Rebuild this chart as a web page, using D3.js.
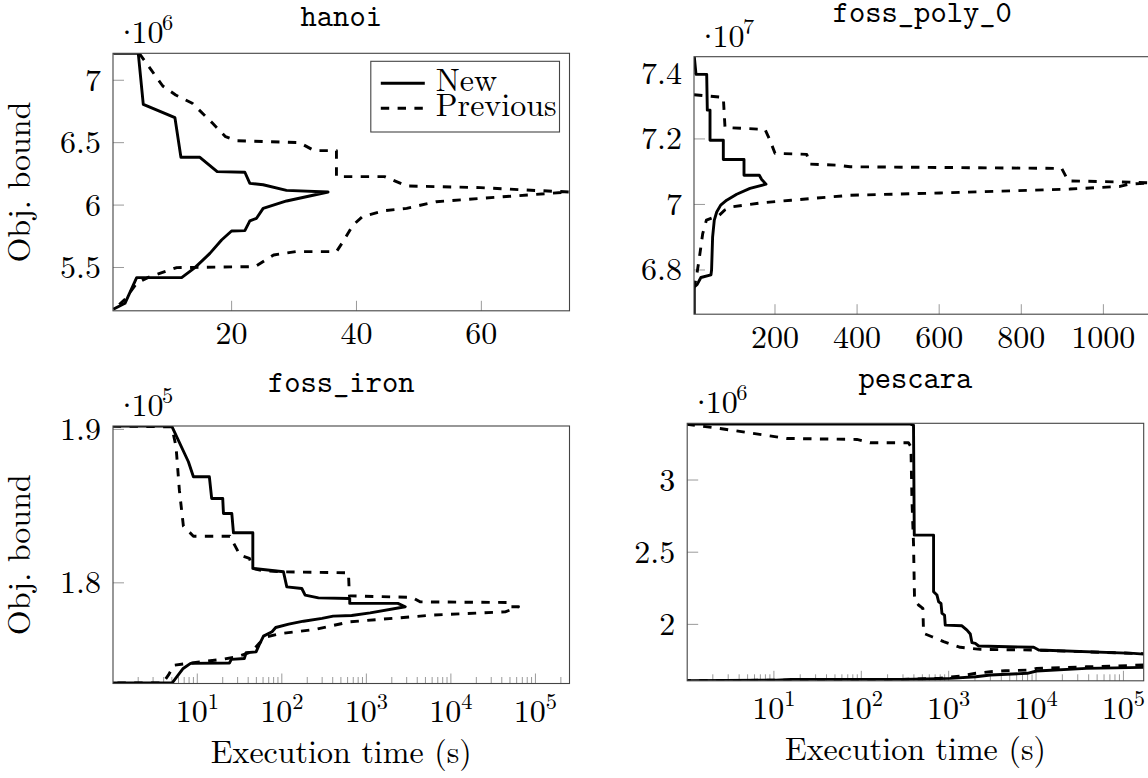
<!DOCTYPE html>
<html>
<head>
<meta charset="utf-8">
<script src="https://cdn.jsdelivr.net/npm/d3@7"></script>
<style>
  body { margin: 0; background: #fff; }
  svg { display: block; }
</style>
</head>
<body>
<svg id="chart" width="1148" height="778"></svg>
<script>
// ---- Bound trajectories: [time (s), objective bound (scaled by 10^exp)] ----
// Upper bounds run from the start to the meeting point, lower bounds run back.

// hanoi (x 10^6)
const hanoiNewUpper = [[1.05,7.216],[5.05,7.216],[5.85,6.807],[10.92,6.70],[11.88,6.383],[14.92,6.383],[17.69,6.268],[22.12,6.263],[22.92,6.174],[25.05,6.163],[28.79,6.118],[35.45,6.105]];
const hanoiNewLower = [[35.45,6.105],[28.8,6.033],[25.05,5.974],[23.99,5.894],[22.92,5.873],[22.12,5.795],[19.99,5.792],[18.39,5.72],[16.52,5.613],[14.12,5.499],[11.99,5.419],[4.79,5.419],[2.92,5.213],[1.05,5.165]];
const hanoiPrevUpper = [[5.2,7.216],[8.97,6.954],[11.04,6.882],[13.70,6.816],[16.96,6.655],[19.03,6.548],[20.8,6.516],[30.87,6.50],[33.24,6.436],[36.79,6.436],[36.79,6.228],[44.49,6.228],[48.04,6.153],[59.88,6.14],[66.97,6.121],[74.07,6.105]];
const hanoiPrevLower = [[74.07,6.105],[67.56,6.081],[59.88,6.054],[52.77,6.027],[48.04,5.974],[44.49,5.955],[40.94,5.907],[39.45,5.84],[37.67,5.694],[36.79,5.627],[30.28,5.627],[26.73,5.60],[23.77,5.507],[11.2,5.499],[6.65,5.421],[4.79,5.373],[2.92,5.245],[1.05,5.16]];

// foss_poly_0 (x 10^7)
const fossPolyNewUpper = [[3.4,7.451],[7.6,7.397],[33.6,7.397],[35.1,7.288],[41.7,7.288],[41.7,7.196],[74.1,7.196],[74.1,7.137],[124.5,7.137],[124.5,7.089],[161.8,7.089],[167.6,7.076],[178.1,7.062]];
const fossPolyNewLower = [[178.1,7.062],[139.1,7.049],[106.7,7.031],[82.3,7.013],[67.7,6.998],[58,6.977],[52.1,6.952],[48,6.90],[45.5,6.80],[44,6.785],[19.5,6.777],[10.5,6.756],[3.4,6.748],[3.4,6.665]];
const fossPolyPrevUpper = [[2.7,7.335],[74.1,7.327],[78.2,7.235],[175.6,7.229],[187.8,7.196],[200,7.156],[277.2,7.153],[285.3,7.123],[350.3,7.12],[383,7.115],[898.4,7.11],[914.5,7.072],[1063,7.068],[1113,7.066]];
const fossPolyPrevLower = [[1113,7.066],[1063,7.062],[1040.4,7.055],[918.6,7.047],[602,7.035],[383,7.028],[239.5,7.013],[167.6,7.005],[95.7,6.993],[77.7,6.983],[64.3,6.967],[32.9,6.952],[23.9,6.911],[14.9,6.83],[8.6,6.779],[2.7,6.745]];

// foss_iron (x 10^5)
const fossIronNewUpper = [[1,1.9021],[4.99,1.9021],[7.85,1.8789],[9.0,1.8691],[13.9,1.8691],[14.8,1.855],[20.0,1.855],[20.4,1.8452],[25.6,1.8452],[26.8,1.8326],[45.4,1.8326],[45.4,1.8094],[104.5,1.8072],[114.6,1.7974],[172.4,1.7963],[188.7,1.792],[271.2,1.7902],[636,1.7898],[636,1.7866],[2360,1.7866],[2886,1.7844]];
const fossIronNewLower = [[2886,1.7844],[1109,1.7804],[670,1.7787],[405,1.7783],[299,1.7768],[180.6,1.775],[120.7,1.7731],[84.7,1.7709],[76.6,1.7681],[60.7,1.7653],[53.8,1.7594],[49.6,1.755],[37.8,1.7544],[36,1.7507],[25.3,1.7501],[24.0,1.7478],[8.33,1.7475],[6.81,1.7442],[5.03,1.7347],[1,1.7347]];
const fossIronPrevUpper = [[1,1.9021],[4.99,1.9017],[5.61,1.8887],[6.14,1.8604],[6.85,1.837],[9.0,1.8304],[24.4,1.8304],[27.3,1.8252],[32.1,1.818],[41.4,1.8159],[45.4,1.8094],[60.6,1.8078],[104.5,1.8072],[614,1.8065],[631,1.7915],[3500,1.7905],[4318,1.7876],[46000,1.7872],[47100,1.7844],[63100,1.7844]];
const fossIronPrevLower = [[63100,1.7844],[43950,1.7811],[6220,1.779],[643,1.7746],[244,1.7696],[98.6,1.767],[65.9,1.7648],[53.8,1.7605],[44,1.755],[29.4,1.7518],[19.6,1.7501],[10.7,1.7485],[5.3,1.7463],[4.55,1.7398],[3.92,1.7348],[1,1.7347]];

// pescara (x 10^6)
const pescaraNewUpper = [[1,3.387],[363,3.387],[396,3.38],[404,2.618],[672,2.618],[672,2.226],[735,2.203],[767,2.157],[817,2.145],[838,2.076],[897,2.064],[914,1.995],[1419,1.99],[1621,1.96],[1768,1.933],[1848,1.873],[2018,1.868],[2203,1.85],[9400,1.841],[10720,1.822],[131000,1.799],[170600,1.794]];
const pescaraNewLower = [[170600,1.702],[37700,1.695],[10160,1.677],[7950,1.661],[3010,1.649],[2044,1.637],[1035,1.626],[292,1.619],[15.8,1.619],[10.7,1.614],[1,1.609]];
const pescaraPrevUpper = [[1,3.387],[2.42,3.357],[14.1,3.288],[89,3.281],[126,3.258],[347,3.258],[370,3.23],[380,2.861],[396,2.561],[407,2.168],[452,2.134],[507,2.111],[516,1.938],[644,1.914],[875,1.88],[1358,1.841],[2301,1.827],[9400,1.822],[131000,1.799],[170600,1.797]];
const pescaraPrevLower = [[170600,1.718],[37700,1.706],[10160,1.695],[8770,1.684],[4450,1.679],[3010,1.672],[2044,1.661],[1384,1.642],[772,1.626],[292,1.619],[1,1.609]];

// ---- Axis ticks ----
const hanoiXTicks = [20, 40, 60];
const hanoiYTicks = [5.5, 6, 6.5, 7];
const fossPolyXTicks = [200, 400, 600, 800, 1000];
const fossPolyYTicks = [6.8, 7, 7.2, 7.4];
const logDecades = [1, 2, 3, 4, 5];
const fossIronYTicks = [1.8, 1.9];
const pescaraYTicks = [2, 2.5, 3];

const seriesNames = ["New", "Previous"];

// ---- Styling ----
const serif = "'Latin Modern Roman', 'Liberation Serif', serif";
const mono = "'Latin Modern Mono', 'Liberation Mono', monospace";
const labelSize = 32, supSize = 22.4, titleSize = 31;
const frameColor = "#444", tickColor = "#9a9a9a";
const lineWidth = 2.9, dash = "8.4,8.4";
const panelW = 456.5, panelH = 257.5;

const panels = [
  { title: "hanoi", exp: 6, left: 113, top: 53.3, titleY: 26, log: false,
    xDomain: [1.0, 74.12], yDomain: [5.153, 7.216], xTicks: hanoiXTicks, yTicks: hanoiYTicks,
    newUp: hanoiNewUpper, newLo: hanoiNewLower, prevUp: hanoiPrevUpper, prevLo: hanoiPrevLower,
    legend: true, yLabel: true, xLabel: false },
  { title: "foss_poly_0", exp: 7, left: 694, top: 56.7, titleY: 22, log: false,
    xDomain: [2.68, 1114.8], yDomain: [6.665, 7.451], xTicks: fossPolyXTicks, yTicks: fossPolyYTicks,
    newUp: fossPolyNewUpper, newLo: fossPolyNewLower, prevUp: fossPolyPrevUpper, prevLo: fossPolyPrevLower,
    legend: false, yLabel: false, xLabel: false },
  { title: "foss_iron", exp: 5, left: 113, top: 426, titleY: 391.7, log: true,
    xDomain: [1.007, 2.53e5], yDomain: [1.7344, 1.9022], xTicks: logDecades, yTicks: fossIronYTicks,
    newUp: fossIronNewUpper, newLo: fossIronNewLower, prevUp: fossIronPrevUpper, prevLo: fossIronPrevLower,
    legend: false, yLabel: true, xLabel: true },
  { title: "pescara", exp: 6, left: 687.2, top: 423.3, titleY: 388.3, log: true,
    xDomain: [1.018, 1.706e5], yDomain: [1.609, 3.393], xTicks: logDecades, yTicks: pescaraYTicks,
    newUp: pescaraNewUpper, newLo: pescaraNewLower, prevUp: pescaraPrevUpper, prevLo: pescaraPrevLower,
    legend: false, yLabel: false, xLabel: true }
];

const svg = d3.select("#chart");

// text helper: font set through CSS so the family list resolves reliably
function label(sel, family, size) {
  return sel.style("font-family", family).style("font-size", size + "px");
}

// advance width of a string in a given font
function advance(str, family, size) {
  const t = label(svg.append("text"), family, size).text(str);
  const w = t.node().getComputedTextLength();
  t.remove();
  return w;
}
const dotW = advance("\u00b7", serif, labelSize);
const tenW = advance("10", serif, labelSize);

panels.forEach((p, i) => {
  const x = (p.log ? d3.scaleLog() : d3.scaleLinear())
    .domain(p.xDomain).range([p.left, p.left + panelW]);
  const y = d3.scaleLinear().domain(p.yDomain).range([p.top + panelH, p.top]);
  const bottom = p.top + panelH;
  const g = svg.append("g");

  // clip region for the curves
  const clipId = "clip" + i;
  svg.append("clipPath").attr("id", clipId)
    .append("rect").attr("x", p.left).attr("y", p.top).attr("width", panelW).attr("height", panelH);

  // y ticks (inside, left side)
  p.yTicks.forEach(v => {
    g.append("line").attr("x1", p.left).attr("x2", p.left + 11)
      .attr("y1", y(v)).attr("y2", y(v))
      .attr("stroke", tickColor).attr("stroke-width", 1);
    label(g.append("text"), serif, labelSize)
      .attr("x", p.left - 12).attr("y", y(v) + 10.5)
      .attr("text-anchor", "end").text(String(v));
  });

  // x ticks
  if (p.log) {
    const [lo, hi] = p.xDomain;
    for (let k = 0; k <= 6; k++) {
      for (let m = 1; m <= 9; m++) {
        const v = m * Math.pow(10, k);
        if (v < lo || v > hi) continue;
        const len = m === 1 ? 10 : 6.5;
        g.append("line").attr("x1", x(v)).attr("x2", x(v))
          .attr("y1", bottom).attr("y2", bottom - len)
          .attr("stroke", tickColor).attr("stroke-width", 1);
      }
    }
    p.xTicks.forEach(d => {
      const t = label(g.append("text"), serif, labelSize)
        .attr("x", x(Math.pow(10, d))).attr("y", bottom + 38)
        .attr("text-anchor", "middle");
      t.append("tspan").text("10");
      t.append("tspan").style("font-size", supSize + "px").attr("dy", -13).text(String(d));
    });
  } else {
    p.xTicks.forEach(v => {
      g.append("line").attr("x1", x(v)).attr("x2", x(v))
        .attr("y1", bottom).attr("y2", bottom - 10)
        .attr("stroke", tickColor).attr("stroke-width", 1);
      label(g.append("text"), serif, labelSize)
        .attr("x", x(v)).attr("y", bottom + 33.5)
        .attr("text-anchor", "middle").text(String(v));
    });
  }

  // curves
  const line = d3.line().x(d => x(d[0])).y(d => y(d[1]));
  const curves = g.append("g").attr("clip-path", `url(#${clipId})`);
  const drawSeries = (up, lo, dashed) => {
    const a = up[up.length - 1], b = lo[0];
    const joined = a[0] === b[0] && a[1] === b[1];
    const paths = joined ? [up.concat(lo.slice(1))] : [up, lo];
    paths.forEach(pts => {
      curves.append("path").attr("d", line(pts))
        .attr("fill", "none").attr("stroke", "#000")
        .attr("stroke-width", lineWidth)
        .attr("stroke-linejoin", "round")
        .attr("stroke-dasharray", dashed ? dash : null);
    });
  };
  drawSeries(p.prevUp, p.prevLo, true);
  drawSeries(p.newUp, p.newLo, false);

  // frame
  g.append("rect").attr("x", p.left).attr("y", p.top).attr("width", panelW).attr("height", panelH)
    .attr("fill", "none").attr("stroke", frameColor).attr("stroke-width", 1.1);

  // scale factor label "·10^n" as one text run: dot centred at left+14,
  // mantissa starting at left+18.5, exponent at left+49
  const sfY = p.top - 10;
  const startX = p.left + 14 - dotW / 2;
  const sf = label(g.append("text"), serif, labelSize).attr("x", startX).attr("y", sfY);
  sf.append("tspan").text("\u00b7");
  sf.append("tspan").attr("dx", (p.left + 18.5) - (startX + dotW)).text("10");
  sf.append("tspan").attr("dx", (p.left + 49) - (p.left + 18.5 + tenW)).attr("dy", -13)
    .style("font-size", supSize + "px").text(String(p.exp));

  // title
  label(g.append("text"), mono, titleSize)
    .attr("x", p.left + panelW / 2).attr("y", p.titleY)
    .attr("text-anchor", "middle").text(p.title);

  if (p.yLabel) {
    label(g.append("text"), serif, labelSize)
      .attr("transform", `translate(30,${p.top + panelH / 2}) rotate(-90)`)
      .attr("text-anchor", "middle").text("Obj. bound");
  }
  if (p.xLabel) {
    label(g.append("text"), serif, labelSize)
      .attr("x", p.left + panelW / 2).attr("y", bottom + 79)
      .attr("text-anchor", "middle").text("Execution time (s)");
  }

  if (p.legend) {
    const bw = 188.7, bh = 70.7;
    const bx = p.left + panelW - 10 - bw, by = p.top + 8;
    const lg = g.append("g");
    lg.append("rect").attr("x", bx).attr("y", by).attr("width", bw).attr("height", bh)
      .attr("fill", "#fff").attr("stroke", frameColor).attr("stroke-width", 1.1);
    seriesNames.forEach((name, j) => {
      const ly = by + 22 + j * 25;
      lg.append("line").attr("x1", bx + 10).attr("x2", bx + 54)
        .attr("y1", ly).attr("y2", ly)
        .attr("stroke", "#000").attr("stroke-width", lineWidth)
        .attr("stroke-dasharray", j === 1 ? dash : null);
      label(lg.append("text"), serif, labelSize)
        .attr("x", bx + 65).attr("y", ly + 8).text(name);
    });
  }
});
</script>
</body>
</html>
